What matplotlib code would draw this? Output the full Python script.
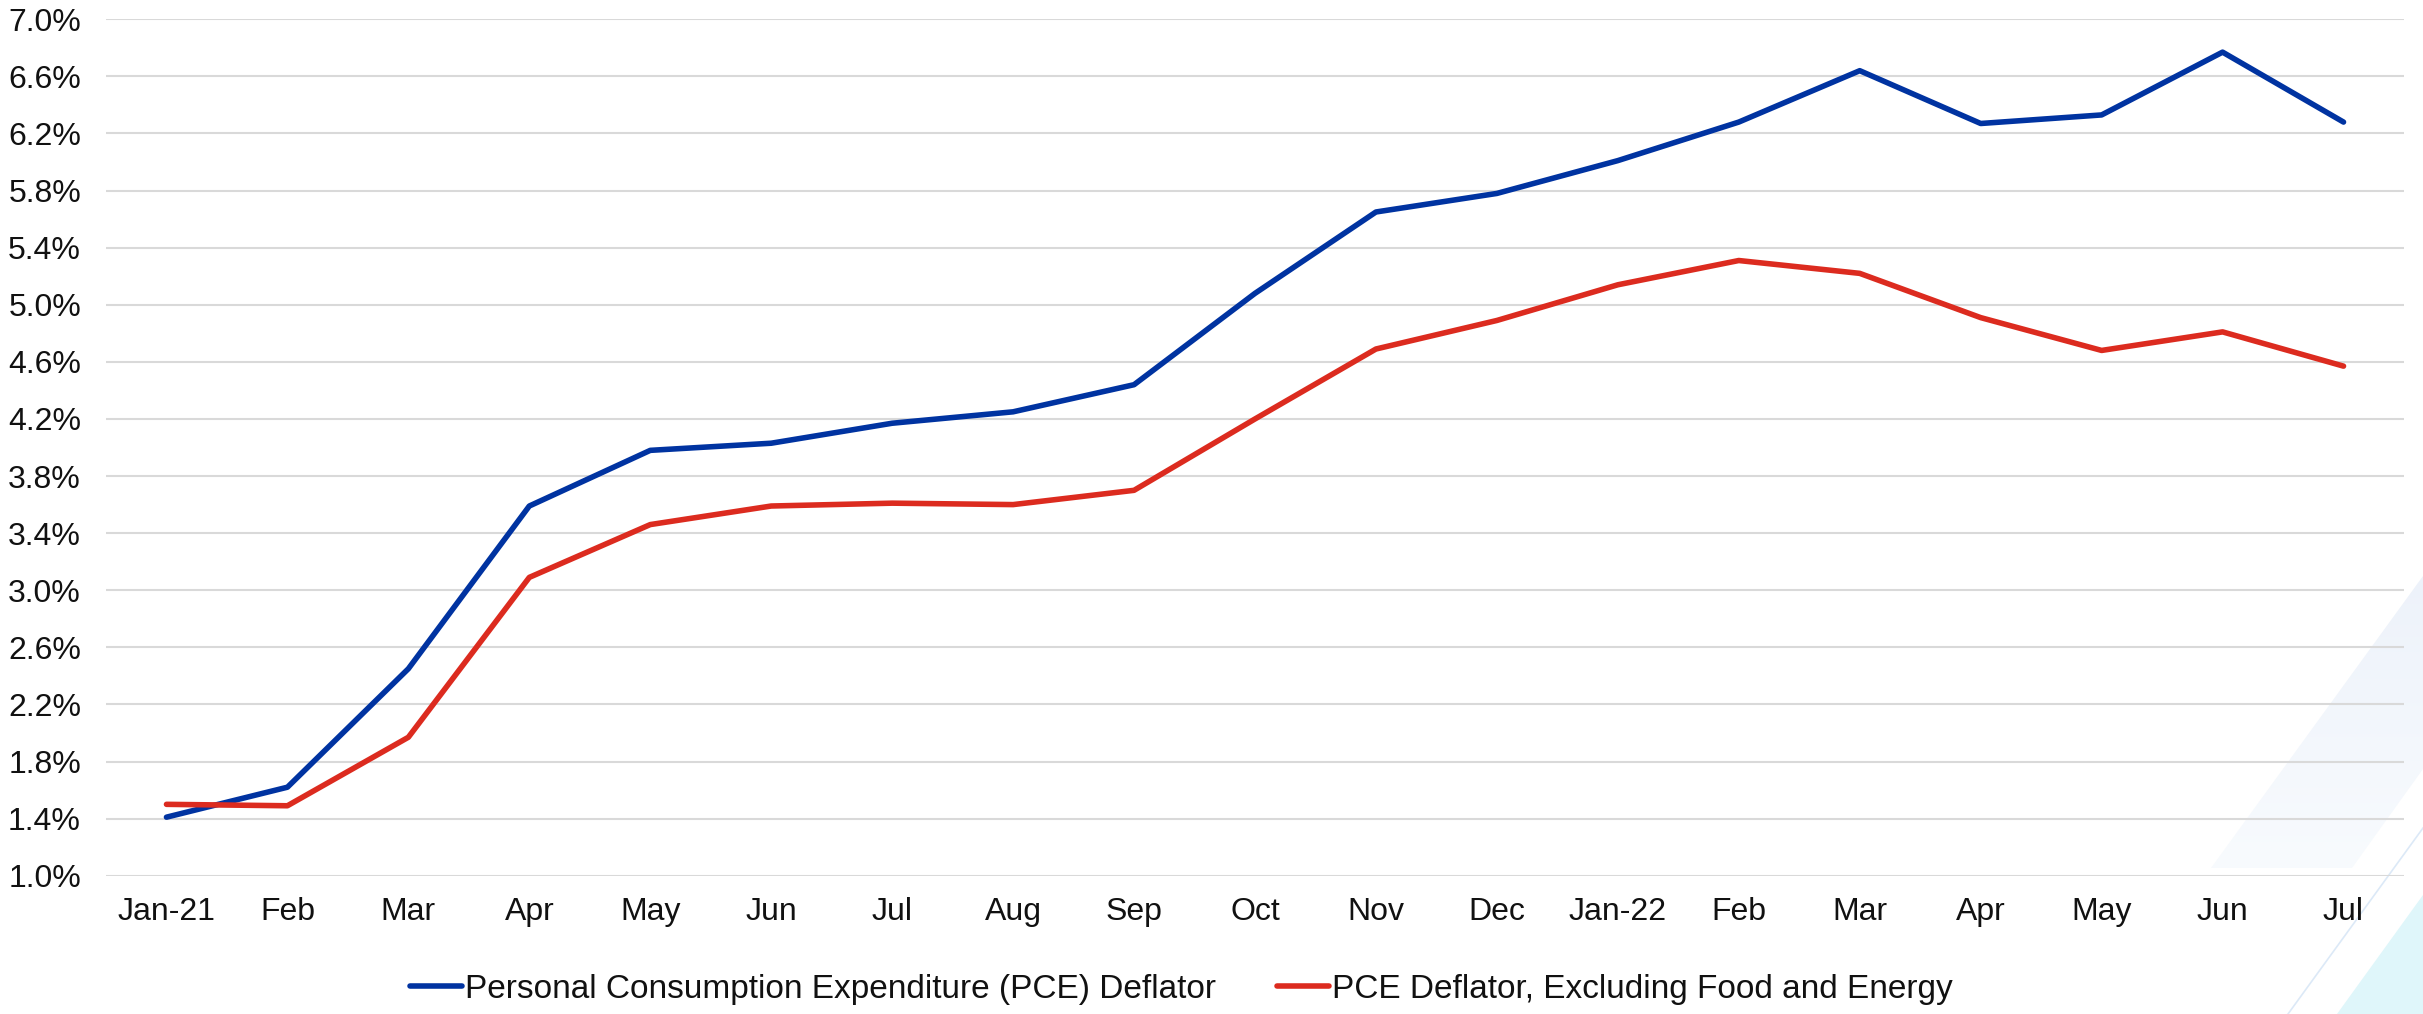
import numpy as np
import matplotlib
matplotlib.use("Agg")
import matplotlib.pyplot as plt
from matplotlib.patches import Polygon
from matplotlib.lines import Line2D
from matplotlib.colors import LinearSegmentedColormap

plt.rcParams['font.family'] = ['Liberation Sans', 'DejaVu Sans']

# Monthly year-over-year inflation, Jan 2021 - Jul 2022 (%)
months = ["Jan-21", "Feb", "Mar", "Apr", "May", "Jun", "Jul", "Aug", "Sep",
          "Oct", "Nov", "Dec", "Jan-22", "Feb", "Mar", "Apr", "May", "Jun", "Jul"]
pce_headline = [1.41, 1.62, 2.45, 3.59, 3.98, 4.03, 4.17, 4.25, 4.44, 5.08,
                5.65, 5.78, 6.01, 6.28, 6.64, 6.27, 6.33, 6.77, 6.28]
pce_core = [1.50, 1.49, 1.97, 3.09, 3.46, 3.59, 3.61, 3.60, 3.70, 4.20,
            4.69, 4.89, 5.14, 5.31, 5.22, 4.91, 4.68, 4.81, 4.57]
series_names = ["Personal Consumption Expenditure (PCE) Deflator",
                "PCE Deflator, Excluding Food and Energy"]
y_ticks = [1.0, 1.4, 1.8, 2.2, 2.6, 3.0, 3.4, 3.8, 4.2, 4.6, 5.0, 5.4, 5.8, 6.2, 6.6, 7.0]

BLUE = "#0033A1"
RED = "#DC2B1F"
LW = 4.0
W, H = 2423, 1014

fig = plt.figure(figsize=(W / 100, H / 100), dpi=100, facecolor="white")

# Decorative background shapes in the lower-right corner
bg = fig.add_axes([0, 0, 1, 1], zorder=-1)
bg.axis("off")
band = Polygon([(2211, 868), (2352, 868), (2423, 769), (2423, 576)],
               closed=True, facecolor="none", edgecolor="none")
bg.add_patch(band)
grad = np.linspace(0, 1, 256).reshape(-1, 1)
cmap = LinearSegmentedColormap.from_list("pale", ["#EDF2FA", "#F8FBFE"])
img = bg.imshow(grad, cmap=cmap, extent=[2200, 2423, 870, 570], aspect="auto",
                zorder=0, interpolation="bicubic")
img.set_clip_path(band)
bg.add_patch(Polygon([(2337, 1014), (2423, 895), (2423, 1014)], closed=True,
                     facecolor="#DFF6FA", edgecolor="none"))
bg.plot([2288, 2423], [1014, 828], color="#DCE9F7", lw=1.2)
bg.set_xlim(0, W)
bg.set_ylim(H, 0)

ax = fig.add_axes([106 / W, 1 - 875.7 / H, (2404 - 106) / W, (875.7 - 19.3) / H])
ax.set_facecolor("none")

x = np.arange(len(months))
ax.plot(x, pce_headline, color=BLUE, lw=LW, solid_capstyle="round",
        solid_joinstyle="round", zorder=3, label=series_names[0])
ax.plot(x, pce_core, color=RED, lw=LW, solid_capstyle="round",
        solid_joinstyle="round", zorder=3, label=series_names[1])

ax.set_xlim(-0.5, len(months) - 0.5)
ax.set_ylim(1.0, 7.0)
ax.set_yticks(y_ticks)
ax.set_yticklabels([f"{v:.1f}%" for v in y_ticks])
ax.set_xticks(x)
ax.set_xticklabels(months)
ax.grid(axis="y", color="#D9D9D9", lw=1.5, zorder=0)
ax.set_axisbelow(True)
for s in ax.spines.values():
    s.set_visible(False)
ax.tick_params(axis="both", length=0, labelsize=23, colors="#111111")
ax.tick_params(axis="y", pad=18)
ax.tick_params(axis="x", pad=15)

handles = [Line2D([], [], color=BLUE, lw=LW, solid_capstyle="round"),
           Line2D([], [], color=RED, lw=LW, solid_capstyle="round")]
fig.legend(handles, series_names, loc="center", bbox_to_anchor=(0.4875, 0.024),
           ncol=2, frameon=False, fontsize=24, handlelength=1.55,
           handletextpad=0.08, columnspacing=1.85, labelcolor="#111111")

fig.savefig("out.png", dpi=100, facecolor="white")
